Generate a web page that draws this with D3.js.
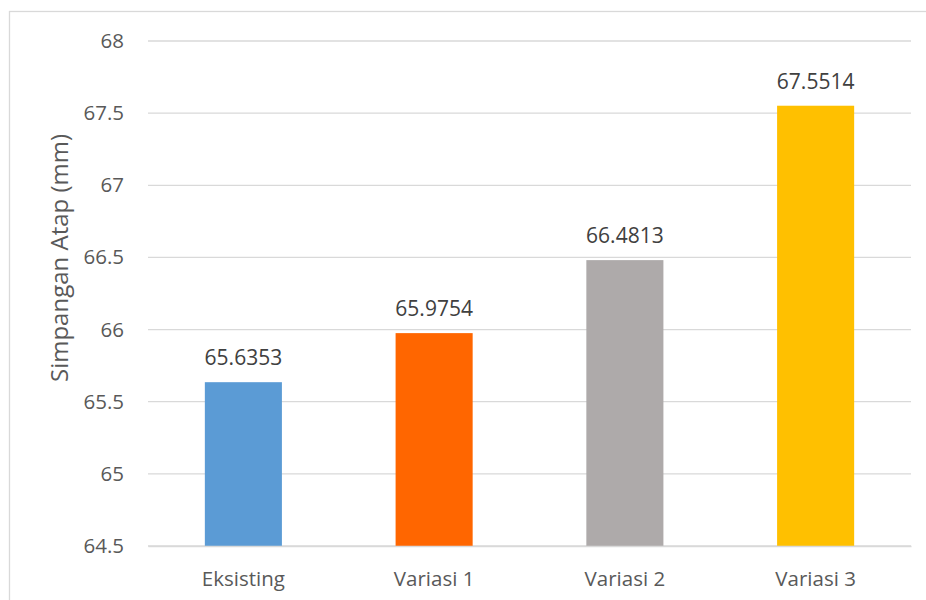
<!DOCTYPE html>
<html>
<head>
<meta charset="utf-8">
<script src="https://cdn.jsdelivr.net/npm/d3@7"></script>
<style>
  html, body { margin: 0; padding: 0; background: #fff; }
  svg { display: block; }
</style>
</head>
<body>
<svg id="chart" width="926" height="600"></svg>
<script>
// Roof displacement per model variant
const categories = ["Eksisting", "Variasi 1", "Variasi 2", "Variasi 3"];
const values = [65.6353, 65.9754, 66.4813, 67.5514];
const colors = ["#5B9BD5", "#FF6600", "#AEAAAA", "#FFC000"];
const yTicks = [64.5, 65, 65.5, 66, 66.5, 67, 67.5, 68];
const yTitle = "Simpangan Atap (mm)";

const svg = d3.select("#chart");
const font = "'Open Sans', 'Noto Sans', sans-serif";

// chart frame (extends past the visible area on the right and bottom)
svg.append("rect")
  .attr("x", 9.5).attr("y", 11.5)
  .attr("width", 940).attr("height", 620)
  .attr("fill", "#fff")
  .attr("stroke", "#d9d9d9").attr("stroke-width", 1.3);

const plot = { left: 148, right: 911, top: 41, bottom: 546 };

const x = d3.scaleBand()
  .domain(categories)
  .range([plot.left, plot.right])
  .paddingInner(0.596)
  .paddingOuter(0.298);

const y = d3.scaleLinear()
  .domain([64.5, 68])
  .range([plot.bottom, plot.top]);

// horizontal gridlines
svg.append("g")
  .selectAll("line")
  .data(yTicks)
  .join("line")
  .attr("x1", plot.left).attr("x2", plot.right)
  .attr("y1", d => y(d)).attr("y2", d => y(d))
  .attr("stroke", "#d9d9d9").attr("stroke-width", 1.3);

// y axis tick labels
const yAxis = d3.axisLeft(y)
  .tickValues(yTicks)
  .tickFormat(d3.format("~g"))
  .tickSize(0)
  .tickPadding(24);
const gy = svg.append("g")
  .attr("transform", `translate(${plot.left},0)`)
  .call(yAxis);
gy.select(".domain").remove();
gy.selectAll("text")
  .attr("font-family", font).attr("font-size", 20.5)
  .attr("fill", "#595959");

// bars
svg.append("g")
  .selectAll("rect")
  .data(values)
  .join("rect")
  .attr("x", (d, i) => x(categories[i]))
  .attr("width", x.bandwidth())
  .attr("y", d => y(d))
  .attr("height", d => y(64.5) - y(d))
  .attr("fill", (d, i) => colors[i]);

// bottom axis line and category labels
const xAxis = d3.axisBottom(x).tickSize(0).tickPadding(25);
const gx = svg.append("g")
  .attr("transform", `translate(0,${plot.bottom})`)
  .call(xAxis);
gx.select(".domain").attr("stroke", "#d9d9d9").attr("stroke-width", 1.3);
gx.selectAll("text")
  .attr("font-family", font).attr("font-size", 20.5)
  .attr("fill", "#595959");

// value labels above bars
svg.append("g")
  .selectAll("text")
  .data(values)
  .join("text")
  .attr("x", (d, i) => x(categories[i]) + x.bandwidth() / 2)
  .attr("y", d => y(d) - 17)
  .attr("text-anchor", "middle")
  .attr("font-family", font).attr("font-size", 21)
  .attr("fill", "#404040")
  .text(d => d.toFixed(4));

// y axis title
svg.append("text")
  .attr("transform", "translate(68,258) rotate(-90)")
  .attr("text-anchor", "middle")
  .attr("font-family", font).attr("font-size", 24)
  .attr("fill", "#595959")
  .text(yTitle);
</script>
</body>
</html>
